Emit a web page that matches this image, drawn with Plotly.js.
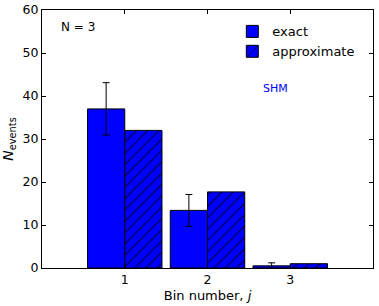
<!DOCTYPE html>
<html>
<head>
<meta charset="utf-8">
<script src="https://cdn.plot.ly/plotly-3.0.1.min.js"></script>
<style>html,body{margin:0;padding:0;background:#fff;}#chart{width:379px;height:306px;}</style>
</head>
<body>
<div id="chart"></div>
<script>
const bins = [1, 2, 3];
const exactValues = [37.0, 13.4, 0.5];
const exactErrors = [6.1, 3.7, 0.7];
const approxValues = [32.0, 17.7, 1.0];
const seriesNames = ["exact", "approximate"];
const yTickVals = [0, 10, 20, 30, 40, 50, 60];
const xTickVals = [1, 2, 3];

const font = "DejaVu Sans, Liberation Sans, sans-serif";

const traces = [
  {
    type: "bar", x: bins, y: exactValues, name: seriesNames[0],
    marker: {color: "#0000ff", line: {color: "#000", width: 1}},
    error_y: {type: "data", array: exactErrors, visible: true, color: "#000", thickness: 1, width: 3.5}
  },
  {
    type: "bar", x: bins, y: approxValues, name: seriesNames[1],
    marker: {color: "#0000ff", line: {color: "#000", width: 1},
      pattern: {shape: "/", bgcolor: "#0000ff", fgcolor: "#000022", fillmode: "replace", size: 8, solidity: 0.12}}
  }
];

const axisCommon = {
  showline: true, linecolor: "#000", linewidth: 1, mirror: "ticks",
  ticks: "inside", ticklen: 4, tickcolor: "#000", tickwidth: 1,
  showgrid: false, zeroline: false,
  tickfont: {family: font, size: 12.5, color: "#000"}
};

const layout = {
  width: 379, height: 306,
  margin: {l: 42, r: 6, t: 10, b: 38},
  paper_bgcolor: "#fff", plot_bgcolor: "#fff",
  font: {family: font, color: "#000"},
  barmode: "group", bargap: 0.1, bargroupgap: 0,
  showlegend: true,
  legend: {x: 0.575, y: 0.975, xanchor: "left", yanchor: "top",
    bgcolor: "rgba(0,0,0,0)", borderwidth: 0,
    font: {family: font, size: 13, color: "#000"}, tracegroupgap: 0},
  xaxis: Object.assign({}, axisCommon, {
    range: [0, 4], tickvals: xTickVals, ticktext: xTickVals.map(String),
    title: {text: "Bin number, <i>j</i>", font: {family: font, size: 13, color: "#000"}, standoff: 4}
  }),
  yaxis: Object.assign({}, axisCommon, {
    range: [0, 60], tickvals: yTickVals,
    title: {text: "<i>N</i><sub>events</sub>", font: {family: font, size: 14, color: "#000"}, standoff: 6}
  }),
  annotations: [
    {xref: "paper", yref: "paper", x: 0.05, y: 0.935, xanchor: "left", yanchor: "middle",
     text: "N = 3", showarrow: false, font: {family: font, size: 12, color: "#000"}},
    {xref: "paper", yref: "paper", x: 0.705, y: 0.697, xanchor: "center", yanchor: "middle",
     text: "SHM", showarrow: false, font: {family: font, size: 11, color: "#0000ff"}}
  ]
};

Plotly.newPlot("chart", traces, layout, {displayModeBar: false, staticPlot: true});
</script>
</body>
</html>
